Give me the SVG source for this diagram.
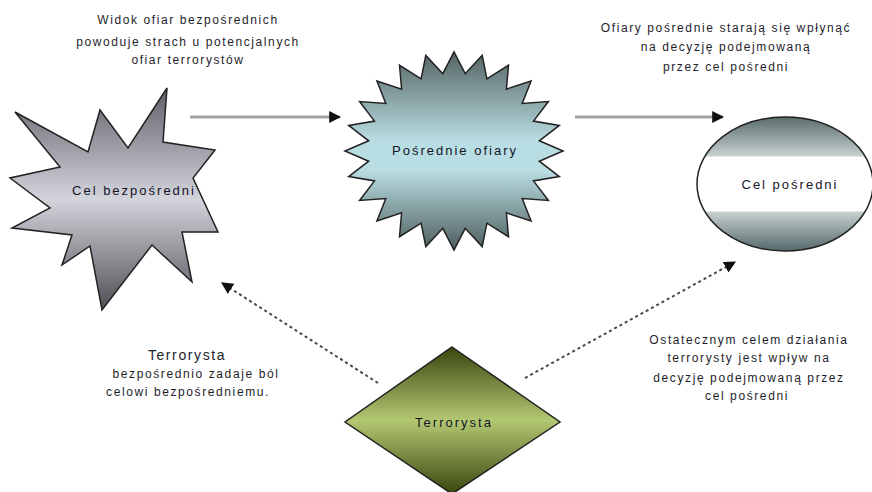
<svg xmlns="http://www.w3.org/2000/svg" width="872" height="492" viewBox="0 0 872 492">
<style>
.t{font-family:"Liberation Sans",Arial,sans-serif;font-size:12px;fill:#1e1e2c;text-anchor:middle;letter-spacing:1.6px}
.n{font-family:"Liberation Sans",Arial,sans-serif;font-size:13px;fill:#141428;text-anchor:middle;letter-spacing:2px}
.shape{stroke:#222;stroke-width:1.5}
.solid{stroke:#a3a3a3;stroke-width:3;fill:none}
.dot{stroke:#4a4a4a;stroke-width:2;stroke-dasharray:3 3;fill:none}
</style>
<defs>
<linearGradient id="gGray" x1="0" y1="0" x2="0" y2="1">
<stop offset="0" stop-color="#5f5f68"/><stop offset="0.5" stop-color="#d4d4dc"/><stop offset="1" stop-color="#4e4e55"/>
</linearGradient>
<linearGradient id="gTeal" x1="0" y1="0" x2="0" y2="1">
<stop offset="0" stop-color="#566464"/><stop offset="0.45" stop-color="#b8dde2"/><stop offset="0.6" stop-color="#b8dde2"/><stop offset="1" stop-color="#4f5e5e"/>
</linearGradient>
<linearGradient id="gEll" x1="0" y1="0" x2="0" y2="1">
<stop offset="0" stop-color="#5a6c6c"/><stop offset="0.29" stop-color="#c6d0d0"/><stop offset="0.3" stop-color="#ffffff"/><stop offset="0.7" stop-color="#ffffff"/><stop offset="0.71" stop-color="#c6d0d0"/><stop offset="1" stop-color="#55686a"/>
</linearGradient>
<linearGradient id="gGreen" x1="0" y1="0" x2="0" y2="1">
<stop offset="0" stop-color="#38460e"/><stop offset="0.5" stop-color="#b3c872"/><stop offset="1" stop-color="#38460e"/>
</linearGradient>
<marker id="ah" viewBox="0 0 10 10" refX="9" refY="5" markerWidth="4" markerHeight="4" orient="auto" markerUnits="strokeWidth">
<path d="M0,0 L10,5 L0,10 z" fill="#111"/>
</marker>
<marker id="ah2" viewBox="0 0 10 10" refX="9" refY="5" markerWidth="6" markerHeight="6" orient="auto" markerUnits="strokeWidth">
<path d="M0,0 L10,5 L0,10 z" fill="#111"/>
</marker>
</defs>
<rect width="872" height="492" fill="#ffffff"/>

<g id="connectors">
<line class="solid" x1="190" y1="117" x2="340" y2="117" marker-end="url(#ah)"/>
<line class="solid" x1="575" y1="117" x2="723" y2="117" marker-end="url(#ah)"/>
<line class="dot" x1="378" y1="383" x2="222" y2="283" marker-end="url(#ah2)"/>
<line class="dot" x1="525" y1="378" x2="735" y2="262" marker-end="url(#ah2)"/>
</g>

<g id="cel-bezposredni">
<polygon class="shape" fill="url(#gGray)" points="15,112 88,152 100,110 128,148 167,88 163,142 215,150 193,178 218,232 182,232 192,282 152,245 102,310 90,246 62,265 72,235 12,228 50,208 10,178 60,167"/>
<text class="n" x="134" y="195">Cel bezpośredni</text>
</g>

<g id="posrednie-ofiary">
<polygon class="shape" fill="url(#gTeal)" points="563,151 539.3,140.8 559.3,125.4 533.5,121.1 548.4,101.5 522.2,103.5 531.1,81 506.4,89.1 508.5,65.3 486.9,78.9 482.2,55.4 465.2,73.7 454,52 442.8,73.7 425.8,55.4 421.1,78.9 399.5,65.3 401.6,89.1 376.9,81 385.8,103.5 359.6,101.5 374.5,121.1 348.7,125.4 368.7,140.8 345,151 368.7,161.2 348.7,176.6 374.5,180.9 359.6,200.5 385.8,198.5 376.9,221 401.6,212.9 399.5,236.7 421.1,223.1 425.8,246.6 442.8,228.3 454,250 465.2,228.3 482.2,246.6 486.9,223.1 508.5,236.7 506.4,212.9 531.1,221 522.2,198.5 548.4,200.5 533.5,180.9 559.3,176.6 539.3,161.2"/>
<text class="n" x="455" y="155">Pośrednie ofiary</text>
</g>

<g id="cel-posredni">
<ellipse class="shape" cx="785" cy="184" rx="88" ry="67" fill="url(#gEll)"/>
<text class="n" x="790" y="189">Cel pośredni</text>
</g>

<g id="terrorysta">
<polygon class="shape" fill="url(#gGreen)" points="452,347 560,422 452,494 345,422"/>
<text class="n" x="454" y="427">Terrorysta</text>
</g>

<g id="labels">
<text class="t" x="188" y="24">Widok ofiar bezpośrednich</text>
<text class="t" x="188" y="46">powoduje strach u potencjalnych</text>
<text class="t" x="188" y="64">ofiar terrorystów</text>
<text class="t" x="726" y="32">Ofiary pośrednie starają się wpłynąć</text>
<text class="t" x="726" y="51">na decyzję podejmowaną</text>
<text class="t" x="726" y="71">przez cel pośredni</text>
<text class="t" x="187" y="360" style="font-size:14px">Terrorysta</text>
<text class="t" x="196" y="378">bezpośrednio zadaje ból</text>
<text class="t" x="188" y="396">celowi bezpośredniemu.</text>
<text class="t" x="749" y="344">Ostatecznym celem działania</text>
<text class="t" x="749" y="362">terrorysty jest wpływ na</text>
<text class="t" x="749" y="382">decyzję podejmowaną przez</text>
<text class="t" x="747" y="400">cel pośredni</text>
</g>
</svg>
